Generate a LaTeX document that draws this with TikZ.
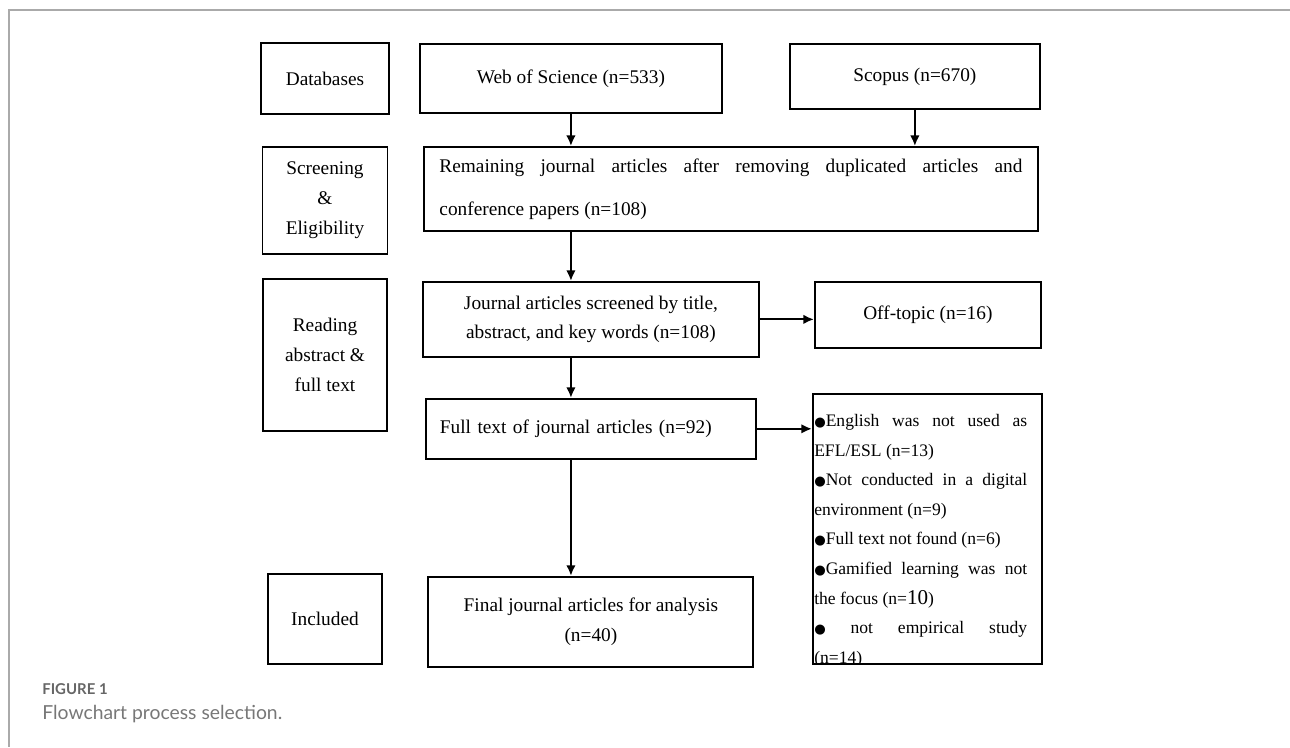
\documentclass[tikz,border=0pt]{standalone}
\usepackage{fontspec}
\setmainfont{Liberation Serif}
\newfontfamily\symfont{DejaVu Sans}
\newfontfamily\capfont{Lato}
\usepackage{xcolor}
\usepackage{tikz}
\usetikzlibrary{positioning,arrows.meta}

\definecolor{framegray}{HTML}{AAAAAA}
\definecolor{capgray}{HTML}{666666}
\definecolor{textgray}{HTML}{777777}
\newcommand{\blt}{{\symfont\fontsize{7.5}{7.5}\selectfont ●}}

\begin{document}
\begin{tikzpicture}[
    >={Latex[length=0.21cm,width=0.19cm]},
    node distance=0.6cm,
    block/.style={rectangle, draw, line width=1.1pt, align=center, inner sep=2pt, font=\fontsize{11}{17}\selectfont},
    arrow/.style={->, line width=1.1pt},
    caption/.style={anchor=base west, inner sep=0pt}
]
\useasboundingbox (0,0) rectangle (25.8,-14.94);

% Frame
\draw[framegray, line width=0.6pt] (25.8,-0.2) -- (0.18,-0.2) -- (0.18,-14.94);

% Stages
\node[block, minimum width=2.56cm, minimum height=1.42cm] (db) at (6.50,-1.57) {Databases};
\node[block, minimum width=2.50cm, minimum height=2.14cm, below=0.62cm of db] (screen) {Screening\\ \&\\ Eligibility};
\node[block, minimum width=2.48cm, minimum height=3.04cm, below=0.46cm of screen] (read) {Reading\\ abstract \&\\ full text};
\node[block, minimum width=2.28cm, minimum height=1.8cm, below=2.82cm of read] (incl) {Included};

% Sources
\node[block, minimum width=6.04cm, minimum height=1.38cm, right=0.58cm of db] (wos) {Web of Science (n=533)};
\node[block, minimum width=5.0cm, minimum height=1.30cm, right=1.32cm of wos, yshift=0.04cm] (scopus) {Scopus (n=670)};

% Selection
\node[block, minimum height=1.68cm, text width=11.66cm, inner xsep=0.31cm, align=justify, font=\fontsize{11}{24.4}\selectfont, below=0.64cm of wos, xshift=3.2cm] (remain) {Remaining journal articles after removing duplicated articles and\linebreak conference papers (n=108)};
\node[block, minimum width=6.72cm, minimum height=1.5cm, below=0.98cm of remain, xshift=-2.8cm] (journal) {Journal articles screened by title,\\ abstract, and key words (n=108)};
\node[block, minimum height=1.2cm, text width=6.04cm, inner xsep=0.28cm, align=left, below=0.8cm of journal] (fulltext) {Full text of journal articles (n=92)};
\node[block, minimum width=6.5cm, minimum height=1.8cm, below=2.32cm of fulltext] (final) {Final journal articles for analysis\\ (n=40)};

% Excluded
\node[block, minimum width=4.52cm, minimum height=1.32cm, right=1.08cm of journal, yshift=0.09cm] (offtopic) {Off-topic (n=16)};
\node[block, minimum width=4.58cm, minimum height=5.4cm, right=1.1cm of fulltext, yshift=-2.0cm] (excl) {};
\begin{scope}
  \clip (excl.north west) rectangle (excl.south east);
  \node[anchor=north west, inner sep=0pt, text width=4.26cm, align=justify, font=\fontsize{10}{16.8}\selectfont] (excltext) at ([xshift=0.04cm, yshift=-0.43cm]excl.north west) {\blt English was not used as\linebreak EFL/ESL (n=13)\\
    \blt Not conducted in a digital\linebreak environment (n=9)\\
    \blt Full text not found (n=6)\\
    \blt Gamified learning was not\linebreak the focus (n={\fontsize{12}{12}\selectfont 10})\\
    \blt\ not empirical study\linebreak (n=14)};
\end{scope}

% Arrows
\draw[arrow] (wos) -- (wos |- remain.north);
\draw[arrow] (scopus) -- (scopus |- remain.north);
\draw[arrow] (remain.south -| wos) -- (journal.north -| wos);
\draw[arrow] (journal.south -| wos) -- (fulltext.north -| wos);
\draw[arrow] (fulltext.south -| wos) -- (final.north -| wos);
\draw[arrow] (journal) -- (journal -| offtopic.west);
\draw[arrow] (fulltext) -- (fulltext -| excl.west);

% Caption
\node[caption, font=\capfont\bfseries\fontsize{8.5}{10}\selectfont, text=capgray] (figlabel) at (0.84,-13.88) {FIGURE 1};
\node[caption, font=\capfont\fontsize{11}{13}\selectfont, text=textgray] (figcaption) at (0.84,-14.38) {Flowchart process selection.};

\end{tikzpicture}
\end{document}
